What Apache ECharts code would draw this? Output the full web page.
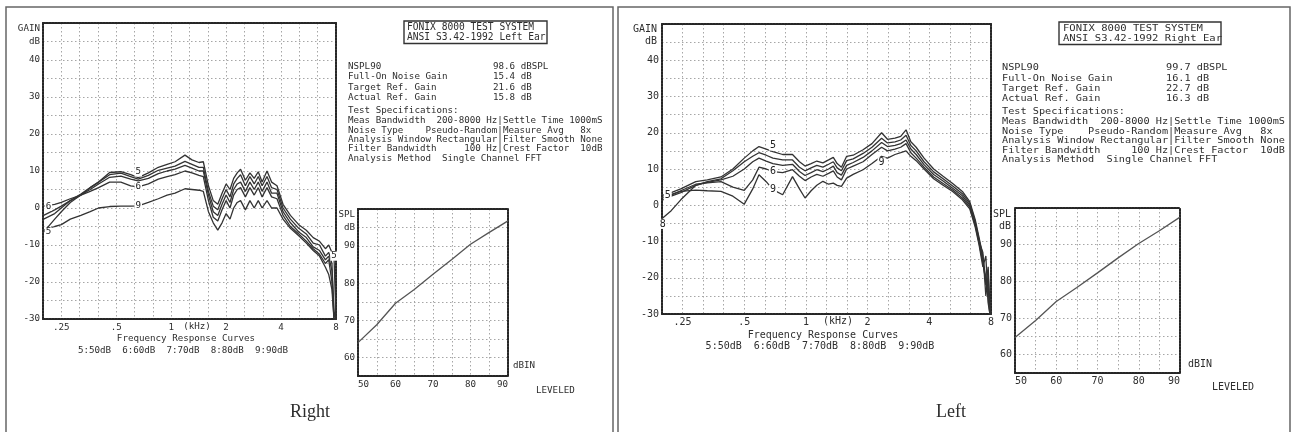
<!DOCTYPE html>
<html><head><meta charset="utf-8">
<script src="https://cdn.jsdelivr.net/npm/echarts@6/dist/echarts.min.js"></script>
<style>html,body{margin:0;padding:0;background:#fff}#c{width:1292px;height:432px}</style>
</head><body><div id="c"></div>
<script>
// ---------- DATA ----------
// Panel captioned "Right"
const FREQ_R = [0.2,0.23,0.25,0.28,0.32,0.36,0.4,0.46,0.53,0.6,0.66,0.75,0.85,0.95,1.05,1.19,1.3,1.42,1.5,1.6,1.7,1.8,1.9,2.0,2.1,2.2,2.3,2.4,2.55,2.7,2.85,3.0,3.15,3.35,3.55,3.8,4.1,4.5,5.0,5.5,6.0,6.5,7.0,7.3,7.6,7.8,8.0];
const GAIN_R_50 = [-6.5,-3,-1,1.5,3.5,5.5,7,9.6,9.8,9,8.2,9.5,11,11.8,12.5,14.3,13,12.3,12.5,6,2,1,4,6.5,5,8,9.5,10.5,7.5,9.5,8,9.8,7,10,7,6,1,-2,-4.5,-6,-8,-9,-11,-10,-12,-13,-30];
const GAIN_R_60 = [0.5,1,1.5,2.5,3.5,4.5,5.5,7,7,6,5.7,6.5,7.8,8.5,9,10,9.5,8.8,8.5,2,-2.5,-3.5,-0.5,2,0,3.5,5,5.5,3,5.5,3.5,5.5,3,5.5,3,2.5,-2,-5,-7,-9,-11,-12.5,-15,-14,-20,-30,-30];
const GAIN_R_70 = [-2,-0.5,0.5,2,3.5,5,6.5,8.3,8.6,7.8,7.3,8,9.3,10,10.5,11.5,10.8,10,10,3.5,-1,-2,1,3.5,1.5,5,6.5,7,4.5,7,5,7,4.5,7,4,4,-1,-4,-6.5,-8,-10.5,-11.5,-14,-13,-17,-29,-30];
const GAIN_R_80 = [-3,-1.5,0,2,3.8,5.5,7,9,9.4,8.5,7.8,8.8,10.2,10.8,11.3,12.6,11.8,11,11,4.5,0.5,-0.5,2.5,5,3,6.5,8,9,6,8.5,6.5,8.5,6,8.5,5.5,5,0,-3,-5.5,-7,-9.5,-10,-13,-12,-15,-28,-30];
const GAIN_R_90 = [-6,-5,-4.5,-3,-2,-1,0,0.4,0.5,0.5,0.6,1.5,2.5,3.5,4,5.2,5,4.8,4.5,-1,-4,-6,-4,-1.5,-3,0,1.5,2,-0.5,2,0,2,0,2,0,0,-3,-5.5,-7.5,-9.5,-11.5,-13,-16,-18,-22,-30,-30];
// Panel captioned "Left"
const FREQ_L = [0.2,0.22,0.245,0.29,0.33,0.385,0.44,0.5,0.55,0.59,0.64,0.69,0.77,0.86,0.93,0.99,1.06,1.13,1.21,1.29,1.36,1.42,1.49,1.58,1.7,1.9,2.1,2.34,2.5,2.72,2.9,3.08,3.25,3.45,3.77,4.2,4.67,5.2,5.8,6.3,6.7,7.0,7.3,7.55,7.75,7.9,8.0];
const GAIN_L_50 = [2.8,3.5,4.5,6.5,7,7.8,10,13,15,16.2,15.5,14.8,14,14,12,10.8,11.5,12.2,11.7,12.5,13.2,11.5,10.5,13.5,13.8,15.3,17,20,18.2,18.5,19,20.8,17.5,16,13,10,8,6,3.8,1,-4,-9,-14,-22,-17,-28,-30];
const GAIN_L_60 = [2,2.8,4,5.8,6.2,6.5,5,4.1,7,10.5,10,9.3,9,9.8,8,6.8,7.8,8.5,8,8.8,9.5,7.8,7,10,10.8,12,14,16,15,15.5,16,17,14.5,13,10.5,7.8,6,4.2,2,-0.5,-5.5,-10.5,-16,-21,-26,-30,-30];
const GAIN_L_70 = [1.5,2.5,3.5,5.5,6.3,7,8,10,12,13,12.2,11.5,11,11.3,9.3,8.2,9,9.8,9.3,10,10.8,9,8.3,11,11.8,13.2,15,17.3,16.2,16.5,17,18,15.5,14,11.2,8.5,6.7,4.7,2.6,0,-5,-10,-13,-25,-19,-29,-30];
const GAIN_L_80 = [-3.5,-1.5,1.5,5.5,6.5,7.3,9.5,12,13.5,14.5,13.8,13,12.5,12.5,10.5,9.5,10.3,11,10.5,11.3,12,10.3,9.5,12.3,12.8,14.3,16,18.5,17.2,17.5,18,19.3,16.5,15,12,9.2,7.3,5.3,3.2,0.5,-4.5,-9.5,-15,-20,-23,-29,-30];
const GAIN_L_90 = [2.5,3,3.8,4.2,4,3.8,2.5,0.3,4.5,8.4,6.5,4.3,2.9,7.9,4.5,2,4,5.5,6.6,5.8,6.1,5.5,5.2,7.5,8.5,9.8,11.5,13.5,13,14,14.5,15,13.5,12.3,10,7.3,5.5,3.8,1.5,-1,-6,-11,-17,-14,-27,-30,-30];
// Input/output (leveled) curves
const IO_INPUT = [50,55,60,65,70,75,80,85,90];
const IO_OUT_R = [64,68.8,74.6,78.3,82.4,86.4,90.5,93.7,96.8];
const IO_OUT_L = [64.7,69.3,74.5,78.3,82.3,86.4,90.3,93.8,97.5];
// Tick labels
const FREQ_TICK_VALUES = [0.25,0.5,1,2,4,8];
const FREQ_TICK_LABELS = ['.25','.5','1','2','4','8'];
const GAIN_TICKS = [40,30,20,10,0,-10,-20,-30];
const SPL_TICKS = [60,70,80,90];
const DBIN_TICKS = [50,60,70,80,90];
// Texts
const BOX_R = ['FONIX 8000 TEST SYSTEM','ANSI S3.42-1992 Left Ear'];
const BOX_L = ['FONIX 8000 TEST SYSTEM','ANSI S3.42-1992 Right Ear'];
const MEAS_NAMES = ['NSPL90','Full-On Noise Gain','Target Ref. Gain','Actual Ref. Gain'];
const MEAS_R = ['98.6 dBSPL','15.4 dB','21.6 dB','15.8 dB'];
const MEAS_L = ['99.7 dBSPL','16.1 dB','22.7 dB','16.3 dB'];
const SPEC_TITLE = 'Test Specifications:';
const SPEC_LINES = [
  'Meas Bandwidth  200-8000 Hz|Settle Time 1000mS',
  'Noise Type    Pseudo-Random|Measure Avg   8x',
  'Analysis Window Rectangular|Filter Smooth None',
  'Filter Bandwidth     100 Hz|Crest Factor  10dB',
  'Analysis Method  Single Channel FFT'
];
const CURVE_TITLE = 'Frequency Response Curves';
const CURVE_KEY = '5:50dB  6:60dB  7:70dB  8:80dB  9:90dB';

// ---------- CHART ----------
const MONO = '"DejaVu Sans Mono"';
const INK = '#2e2e2e';
const FREQ_MIN = 0.25 / Math.cbrt(2);
const FRAME = {show:true, onZero:false, lineStyle:{color:'#262626', width:2, type:[2,1]}};
const GRIDLINE = {show:true, lineStyle:{color:'#a6a6a6', width:1, type:[1.5,2.5]}};

function fmtFreq(v){
  for (let i=0;i<FREQ_TICK_VALUES.length;i++){
    if (Math.abs(Math.log2(v/FREQ_TICK_VALUES[i])) < 0.02) return FREQ_TICK_LABELS[i];
  }
  return '';
}

const panels = [
  {
    main:[43,23,293,296], io:[358,209,150,167], fs:9.2, xm:4, ym:3,
    freq:FREQ_R, io_out:IO_OUT_R,
    curves:[
      {d:GAIN_R_50, lab:{0:['5','right'],10:['5','top'],45:['5','inside']}},
      {d:GAIN_R_60, lab:{0:['6','right'],10:['6','inside']}},
      {d:GAIN_R_70, lab:{}},
      {d:GAIN_R_80, lab:{}},
      {d:GAIN_R_90, lab:{10:['9','inside']}}
    ]
  },
  {
    main:[662,24,329,290], io:[1015,208,165,165], fs:10, xm:3, ym:3,
    freq:FREQ_L, io_out:IO_OUT_L,
    curves:[
      {d:GAIN_L_50, lab:{0:['5','right'],11:['5','top']}},
      {d:GAIN_L_60, lab:{11:['6','inside']}},
      {d:GAIN_L_70, lab:{}},
      {d:GAIN_L_80, lab:{0:['8','bottom']}},
      {d:GAIN_L_90, lab:{11:['9','inside'],27:['9','bottom']}}
    ]
  }
];

const grids=[], xAxes=[], yAxes=[], series=[];
panels.forEach((P,k)=>{
  const lab = {fontFamily:MONO, fontSize:P.fs, color:INK};
  grids.push({left:P.main[0], top:P.main[1], width:P.main[2], height:P.main[3], show:false});
  grids.push({left:P.io[0], top:P.io[1], width:P.io[2], height:P.io[3], show:false});
  const gm = 2*k, gio = 2*k+1;
  const ax = xAxes.length;
  xAxes.push({gridIndex:gm, type:'log', logBase:2, min:FREQ_MIN, max:8, position:'bottom',
    axisLine:FRAME, axisTick:{show:false}, splitLine:{show:false}, minorTick:{show:false},
    axisLabel:Object.assign({margin:P.xm, formatter:fmtFreq}, lab)});
  xAxes.push({gridIndex:gm, type:'value', min:0, max:16, interval:1, position:'top',
    axisLine:FRAME, axisTick:{show:false}, axisLabel:{show:false}, splitLine:GRIDLINE});
  yAxes.push({gridIndex:gm, type:'value', min:-30, max:50, interval:5, position:'left',
    axisLine:FRAME, axisTick:{show:false}, splitLine:GRIDLINE,
    axisLabel:Object.assign({margin:P.ym, formatter:v=>GAIN_TICKS.includes(v)?String(v):''}, lab)});
  yAxes.push({gridIndex:gm, type:'value', min:-30, max:50, interval:5, position:'right',
    axisLine:FRAME, axisTick:{show:false}, splitLine:{show:false}, axisLabel:{show:false}});
  xAxes.push({gridIndex:gio, type:'value', min:50, max:90, interval:5, position:'bottom',
    axisLine:FRAME, axisTick:{show:false}, splitLine:GRIDLINE,
    axisLabel:Object.assign({margin:P.xm, alignMinLabel:'left', alignMaxLabel:'right',
      formatter:v=>DBIN_TICKS.includes(v)?String(v):''}, lab)});
  xAxes.push({gridIndex:gio, type:'value', min:50, max:90, interval:5, position:'top',
    axisLine:FRAME, axisTick:{show:false}, splitLine:{show:false}, axisLabel:{show:false}});
  yAxes.push({gridIndex:gio, type:'value', min:55, max:100, interval:5, position:'left',
    axisLine:FRAME, axisTick:{show:false}, splitLine:GRIDLINE,
    axisLabel:Object.assign({margin:P.ym, formatter:v=>SPL_TICKS.includes(v)?String(v):''}, lab)});
  yAxes.push({gridIndex:gio, type:'value', min:55, max:100, interval:5, position:'right',
    axisLine:FRAME, axisTick:{show:false}, splitLine:{show:false}, axisLabel:{show:false}});

  P.curves.forEach(c=>{
    series.push({type:'line', xAxisIndex:ax, yAxisIndex:ax, silent:true, animation:false, z:3,
      symbol:'circle', symbolSize:0, showSymbol:true, label:{show:false},
      lineStyle:{color:'#333', width:1.3}, itemStyle:{color:'#333'},
      data:P.freq.map((f,i)=>{
        const L=c.lab[i];
        if(!L) return [f,c.d[i]];
        return {value:[f,c.d[i]], label:{show:true, formatter:L[0], position:L[1], distance:1,
          fontFamily:MONO, fontSize:P.fs, color:'#222', backgroundColor:'#fff', padding:[0,1], lineHeight:P.fs}};
      })});
  });
  series.push({type:'line', xAxisIndex:ax+2, yAxisIndex:ax+2, silent:true, animation:false, z:3,
    showSymbol:false, lineStyle:{color:'#555', width:1.3},
    data:IO_INPUT.map((v,i)=>[v,P.io_out[i]])});
});

function txt(x,y,t,font,align){
  return {type:'text', x:x, y:y, silent:true, z:10,
    style:{text:t, font:font, fill:INK, textAlign:align||'left', align:align||'left',
      textVerticalAlign:'middle', verticalAlign:'middle'}};
}
const f1 = '9.2px '+MONO, f2 = '10px '+MONO;
const G = [
  {type:'rect', shape:{x:6,y:7,width:607,height:440}, style:{fill:'none', stroke:'#666', lineWidth:1.5}, silent:true},
  {type:'rect', shape:{x:618,y:7,width:672,height:440}, style:{fill:'none', stroke:'#666', lineWidth:1.5}, silent:true},
  // panel 1
  txt(40,29,'GAIN',f1,'right'), txt(40,42,'dB',f1,'right'),
  txt(197,327,'(kHz)',f1,'center'),
  txt(186,339,CURVE_TITLE,f1,'center'),
  txt(183,351,CURVE_KEY,f1,'center'),
  txt(310,412,'Right','18px "Liberation Serif"','center'),
  {type:'rect', shape:{x:404,y:21,width:143,height:22.5}, style:{fill:'none', stroke:'#333', lineWidth:1.4}, silent:true},
  txt(407,27.7,BOX_R[0],'9.6px '+MONO), txt(407,37.7,BOX_R[1],'9.6px '+MONO),
  txt(355,215,'SPL',f1,'right'), txt(355,228,'dB',f1,'right'),
  txt(513,366,'dBIN',f1), txt(536,391,'LEVELED',f1),
  txt(348,110.7,SPEC_TITLE,f1),
  // panel 2
  txt(657,29.3,'GAIN',f2,'right'), txt(657,41.7,'dB',f2,'right'),
  txt(838,321.7,'(kHz)',f2,'center'),
  txt(823,335,CURVE_TITLE,f2,'center'),
  txt(820,346.7,CURVE_KEY,f2,'center'),
  txt(951,412,'Left','18px "Liberation Serif"','center'),
  {type:'rect', shape:{x:1059,y:22,width:162,height:22.5}, style:{fill:'none', stroke:'#333', lineWidth:1.4}, silent:true},
  txt(1011,214,'SPL',f2,'right'), txt(1011,226,'dB',f2,'right'),
  txt(1188,364,'dBIN',f2), txt(1212,387,'LEVELED',f2)
];
MEAS_NAMES.forEach((n,i)=>{
  G.push(txt(348,67+10.1*i,n,f1), txt(493,67+10.1*i,MEAS_R[i],f1));
});
SPEC_LINES.forEach((s,i)=>{
  G.push(txt(348,120.7+9.45*i,s,f1));
});
// panel 2 text block: same print, scanned wider
const SX = 1.112;
const kids = [
  txt((1063-1002)/SX,28.5,BOX_L[0],'9.5px '+MONO), txt((1063-1002)/SX,38.7,BOX_L[1],'9.5px '+MONO),
  txt(0,112,SPEC_TITLE,f1)
];
MEAS_NAMES.forEach((n,i)=>{
  kids.push(txt(0,68+10.2*i,n,f1), txt((1166-1002)/SX,68+10.2*i,MEAS_L[i],f1));
});
SPEC_LINES.forEach((s,i)=>{
  kids.push(txt(0,122+9.4*i,s,f1));
});
G.push({type:'group', x:1002, y:0, scaleX:SX, scaleY:1, children:kids});

const chart = echarts.init(document.getElementById('c'), null, {renderer:'canvas'});
chart.setOption({animation:false, backgroundColor:'#fff', grid:grids, xAxis:xAxes, yAxis:yAxes, series:series, graphic:G});
</script></body></html>
